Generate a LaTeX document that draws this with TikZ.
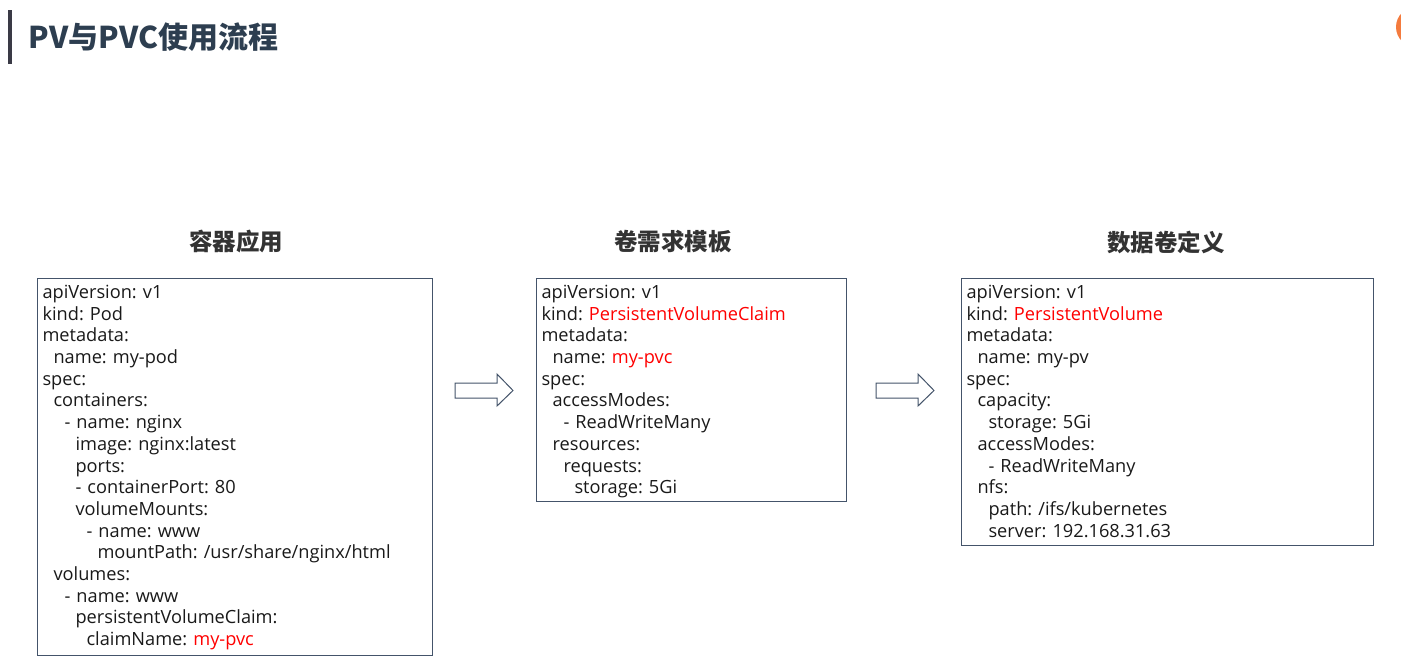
\documentclass[tikz,border=0pt]{standalone}
\usepackage{fontspec}
\setmainfont{Open Sans}
\newfontfamily\cjk{Noto Sans CJK SC}
\usepackage{tikz}
\usetikzlibrary{positioning}

\definecolor{titleblue}{HTML}{2D3E50}
\definecolor{barcolor}{HTML}{3A3A46}
\definecolor{boxline}{HTML}{44546A}
\definecolor{headgray}{HTML}{333333}
\definecolor{keyred}{HTML}{FF0000}
\definecolor{dotorange}{HTML}{F47B3E}

\newlength\indstep
\setlength\indstep{11pt}
\newcommand{\ind}[1]{\hspace*{#1\indstep}}
\newcommand{\hl}[1]{\textcolor{keyred}{#1}}
\frenchspacing

\begin{document}
\begin{tikzpicture}[
            x=1pt, y=-1pt,
            codebox/.style={draw=boxline, line width=1.1pt, anchor=north west, align=left,
                inner xsep=5pt, inner ysep=6.5pt, text width=#1,
                font=\fontsize{18.2pt}{21.7pt}\selectfont, text=black!90}, % yaml listing
            heading/.style={font=\cjk\bfseries\fontsize{23.5pt}{28pt}\selectfont, text=headgray}, % column titles
            blockarrow/.style={draw=boxline, line width=1pt, fill=white} % hollow arrows
            ]
        \useasboundingbox (0,0) rectangle (1401,670);

            % page title
            \fill[barcolor] (8,10) rectangle (11.5,64);
            \node[anchor=west, font=\cjk\bfseries\fontsize{30pt}{35pt}\selectfont, text=titleblue] (title) at (25,37) {PV与PVC使用流程};
            \fill[dotorange] (1416,27) circle (20);

            % column titles
            \node[heading] (podhead) at (236,242) {容器应用};
            \node[heading] (pvchead) at (673,242) {卷需求模板};
            \node[heading] (pvhead) at (1166,242) {数据卷定义};

            % the three yaml boxes (text depth = everything below the first baseline)
            \node[codebox=385pt, text depth=351pt] (pod) at (37,278) {apiVersion: v1\\
                kind: Pod\\
                metadata:\\
                \ind{1}name: my-pod\\
                spec:\\
                \ind{1}containers:\\
                \ind{2}- name: nginx\\
                \ind{3}image: nginx:latest\\
                \ind{3}ports:\\
                \ind{3}- containerPort: 80\\
                \ind{3}volumeMounts:\\
                \ind{4}- name: www\\
                \ind{5}mountPath: /usr/share/nginx/html\\
                \ind{1}volumes:\\
                \ind{2}- name: www\\
                \ind{3}persistentVolumeClaim:\\
                \ind{4}claimName: \hl{my-pvc}};

            \node[codebox=300pt, text depth=197pt] (pvc) at (536,278) {apiVersion: v1\\
                kind: \hl{PersistentVolumeClaim}\\
                metadata:\\
                \ind{1}name: \hl{my-pvc}\\
                spec:\\
                \ind{1}accessModes:\\
                \ind{2}- ReadWriteMany\\
                \ind{1}resources:\\
                \ind{2}requests:\\
                \ind{3}storage: 5Gi};

            \node[codebox=402pt, text depth=241pt] (pv) at (961,278) {apiVersion: v1\\
                kind: \hl{PersistentVolume}\\
                metadata:\\
                \ind{1}name: my-pv\\
                spec:\\
                \ind{1}capacity:\\
                \ind{2}storage: 5Gi\\
                \ind{1}accessModes:\\
                \ind{2}- ReadWriteMany\\
                \ind{1}nfs:\\
                \ind{2}path: /ifs/kubernetes\\
                \ind{2}server: 192.168.31.63};

            % hollow arrows between the boxes
            \foreach \sx in {455,876}
                \draw[blockarrow, xshift=\sx] (0,383) -- (42,383) -- (42,374) -- (58,390.5)
                    -- (42,406) -- (42,398) -- (0,398) -- cycle;

        \end{tikzpicture}
\end{document}
